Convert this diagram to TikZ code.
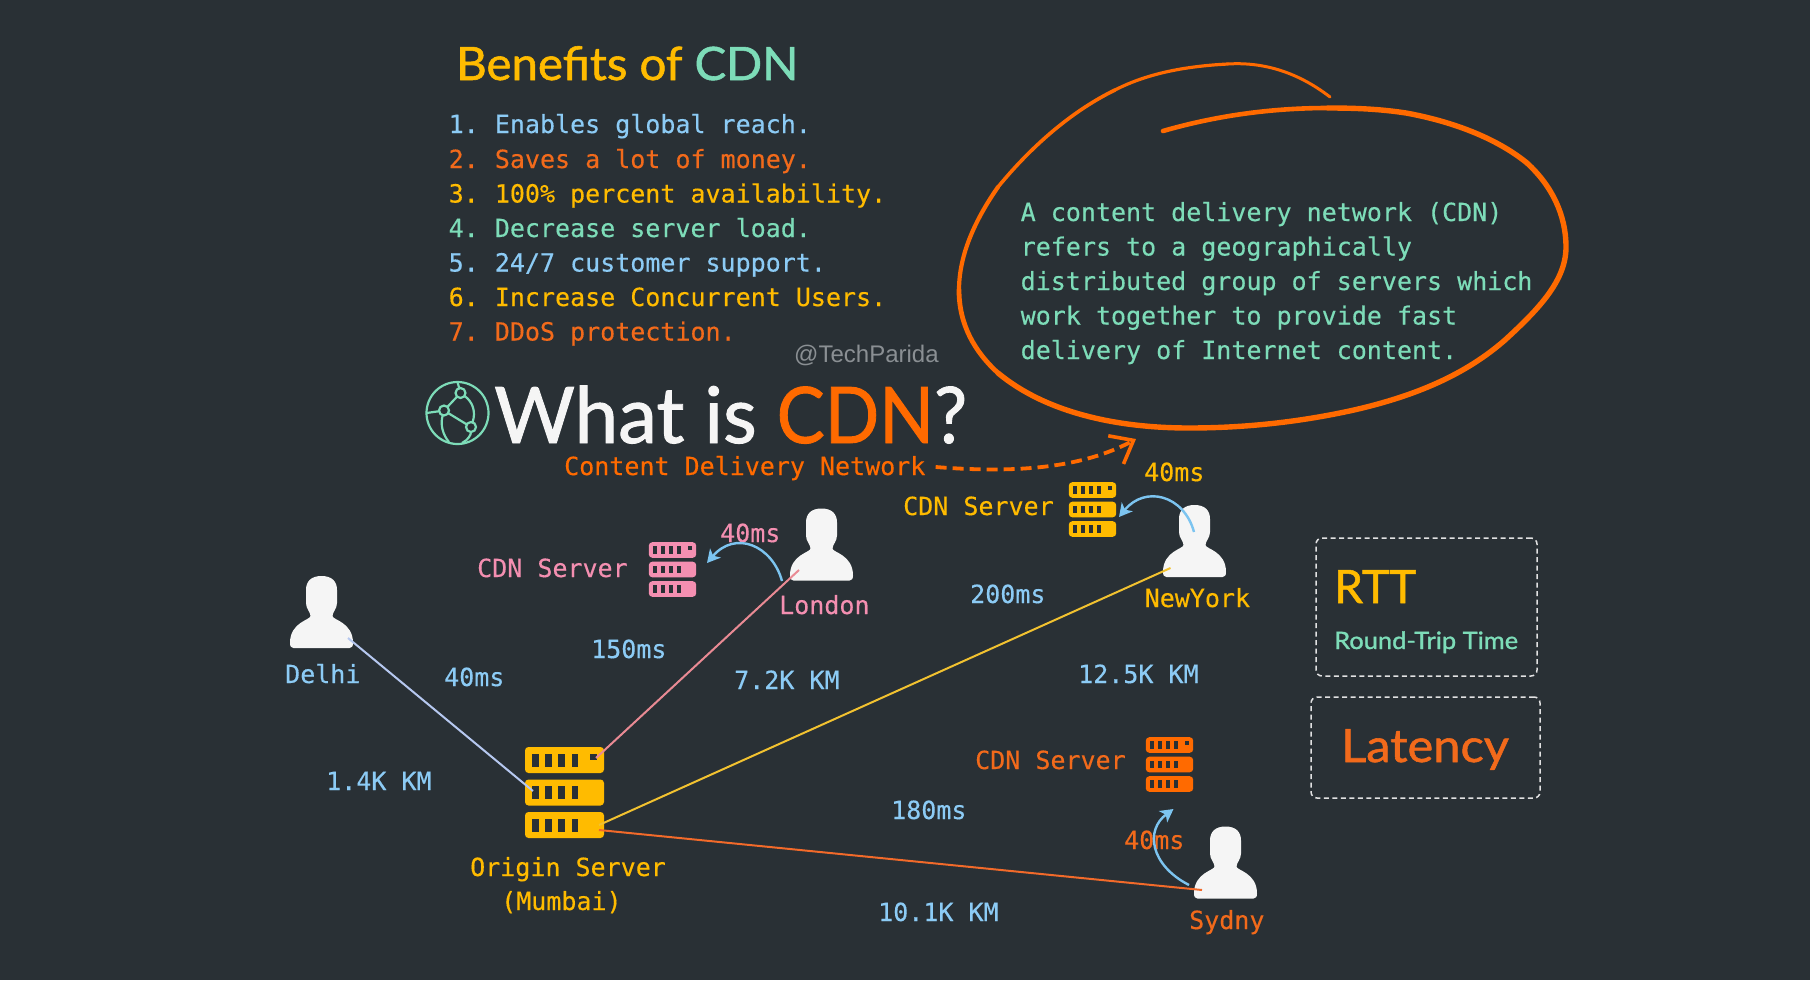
\documentclass[tikz,border=0pt]{standalone}
\usepackage{fontspec}
\usetikzlibrary{arrows.meta}
\setmainfont{Liberation Sans}
\newfontfamily\monof[FakeBold=0.35]{DejaVu Sans Mono}
\newfontfamily\handf[FakeBold=1.2]{Lato}
\definecolor{bg}{HTML}{293035}
\definecolor{cblue}{HTML}{8CCBF5}
\definecolor{corange}{HTML}{F26A1B}
\definecolor{cvivid}{HTML}{FF6A00}
\definecolor{cyellow}{HTML}{FFBB00}
\definecolor{cgreen}{HTML}{7DDCB8}
\definecolor{cpink}{HTML}{F48FB1}
\definecolor{cwhite}{HTML}{F5F5F5}
\definecolor{cgray}{HTML}{8A8F93}
\definecolor{arcblue}{HTML}{7CC4F0}
\definecolor{linkblue}{HTML}{B6C8F0}
\definecolor{linkpink}{HTML}{E98A94}
\definecolor{linkyellow}{HTML}{F2C230}
\definecolor{linkorange}{HTML}{F26A2A}
\tikzset{
  lbl/.style={anchor=base west,inner sep=0pt,font=\monof\fontsize{25}{34.5}\selectfont},
  hand/.style={anchor=base west,inner sep=0pt,font=\handf\fontsize{#1}{#1}\selectfont},
  iconbox/.style={inner sep=0pt,outer sep=0pt},
  link/.style={line width=2pt},
  hop/.style={line width=2.4pt,color=arcblue,-{Stealth[length=13pt,width=14pt,inset=3.5pt]}},
  dashbox/.style={draw=cwhite!90!bg,line width=1.5pt,dash pattern=on 5pt off 3.5pt,rounded corners=6pt,fill=none},
  blob/.style={color=cvivid,line cap=round,line join=round}
}
\newcommand{\personicon}[3]{%
  \node[iconbox,minimum width=63pt,minimum height=72pt] (#1) at (#2,#3) {};
  \fill[cwhite,shift={(#1.center)}]
    (0,-36) .. controls (10,-36) and (15.5,-31) .. (15.5,-22)
    -- (15.5,-9) .. controls (15.5,-3) and (11,0) .. (11,4)
    .. controls (11,8) and (31.5,10) .. (31.5,31)
    .. controls (31.5,34.5) and (30,36) .. (28,36)
    -- (-28,36)
    .. controls (-30,36) and (-31.5,34.5) .. (-31.5,31)
    .. controls (-31.5,10) and (-11,8) .. (-11,4)
    .. controls (-11,0) and (-15.5,-3) .. (-15.5,-9)
    -- (-15.5,-22)
    .. controls (-15.5,-31) and (-10,-36) .. (0,-36) -- cycle;
}
\newcommand{\servericon}[5]{%
  \node[iconbox,minimum width={79pt*#4},minimum height={91pt*#4}] (#1) at (#2,#3) {};
  \begin{scope}[shift={(#1.center)},scale=#4]
    \foreach \row in {0,1,2}{
      \fill[#5,rounded corners=3.5pt] (-39.5,{-45.5+32.5*\row}) rectangle (39.5,{-19.5+32.5*\row});
      \foreach \col in {0,1,2,3}{
        \fill[bg] ({-32.5+13.2*\col},{-39+32.5*\row}) rectangle ({-26+13.2*\col},{-26+32.5*\row});
      }
    }
    \fill[bg] (25.5,-39) rectangle (32.5,-33);
  \end{scope}
}
\newcommand{\numgap}{\hspace{-4pt}}
\begin{document}
\begin{tikzpicture}[x=1pt,y=-1pt]
\useasboundingbox (0,0) rectangle (1810,980);
\fill[bg] (0,0) rectangle (1810,980);

% titles
\node[hand=46] (benefits) at (456,80) {\scalebox{1.03}[1]{\textcolor{cyellow}{Benefits of} \textcolor{cgreen}{CDN}}};
\node[hand=78] (whatis) at (494,443) {\textcolor{cwhite}{What is} \scalebox{0.92}[1]{\textcolor{cvivid}{CDN}}\scalebox{0.95}[1]{\textcolor{cwhite}{?}}};
\node[lbl,cvivid] (cdnfull) at (564,475) {Content Delivery Network};
\node[anchor=base west,inner sep=0pt,font=\fontsize{24}{24}\selectfont,cgray] (handle) at (794,362) {@TechParida};

% list
\node[lbl,cblue] (b1) at (448.5,133) {1.\numgap{} Enables global reach.};
\node[lbl,corange] (b2) at (448.5,168) {2.\numgap{} Saves a lot of money.};
\node[lbl,cyellow] (b3) at (448.5,202.5) {3.\numgap{} 100\% percent availability.};
\node[lbl,cgreen] (b4) at (448.5,237) {4.\numgap{} Decrease server load.};
\node[lbl,cblue] (b5) at (448.5,271.5) {5.\numgap{} 24/7 customer support.};
\node[lbl,cyellow] (b6) at (448.5,306) {6.\numgap{} Increase Concurrent Users.};
\node[lbl,corange] (b7) at (448.5,340.5) {7.\numgap{} DDoS protection.};

% description
\node[lbl,cgreen] (d1) at (1020.5,221) {A content delivery network (CDN)};
\node[lbl,cgreen] (d2) at (1020.5,255.5) {refers to a geographically};
\node[lbl,cgreen] (d3) at (1020.5,290) {distributed group of servers which};
\node[lbl,cgreen] (d4) at (1020.5,324.5) {work together to provide fast};
\node[lbl,cgreen] (d5) at (1020.5,359) {delivery of Internet content.};

% hand-drawn bubble
\draw[blob,line width=3pt] (1330,97) .. controls (1295,70) and (1260,62) .. (1228,64);
\draw[blob,line width=3.2pt] (1228,64) .. controls (1190,66) and (1150,72) .. (1115,90);
\draw[blob,line width=3.6pt] (1115,90) .. controls (1070,112) and (1030,148) .. (998,187);
\draw[blob,line width=4.2pt] (998,187) .. controls (975,220) and (959,255) .. (959,290);
\draw[blob,line width=4.8pt] (959,290) .. controls (959,325) and (975,352) .. (998,373);
\draw[blob,line width=5.4pt] (998,373) .. controls (1045,412) and (1115,428) .. (1189,428)
  .. controls (1245,428) and (1300,422) .. (1354,410)
  .. controls (1415,396) and (1465,375) .. (1505,340)
  .. controls (1540,308) and (1566,280) .. (1566,247)
  .. controls (1566,215) and (1552,186) .. (1527,163)
  .. controls (1495,137) and (1450,121) .. (1406,113)
  .. controls (1380,109) and (1355,108) .. (1328,108);
\draw[blob,line width=4.6pt] (1328,108) .. controls (1270,108) and (1215,116) .. (1163,131);

% globe
\begin{scope}[cgreen,line width=2.2pt]
  \node[iconbox,minimum size=62pt,circle,draw=cgreen,line width=2.2pt] (globe) at (457.5,413) {};
  \node[iconbox,minimum size=10pt,circle,draw=cgreen,line width=2.2pt] (g1) at (460.5,393) {};
  \node[iconbox,minimum size=10pt,circle,draw=cgreen,line width=2.2pt] (g2) at (444,410.5) {};
  \node[iconbox,minimum size=10pt,circle,draw=cgreen,line width=2.2pt] (g3) at (471,427) {};
  \draw (g1) -- (g2);
  \draw (g2) -- (g3);
  \draw (g1) .. controls (473,402) and (476,412) .. (g3);
  \draw (g2) -- (globe.west);
  \draw (g1) -- (globe.north);
  \draw (g2) .. controls (440,425) and (443,435) .. (449,442);
  \draw (g3) .. controls (471,435) and (468,440) .. (462,443);
\end{scope}

% icons
\personicon{delhi}{321.5}{612}
\personicon{london}{821.5}{544.5}
\personicon{newyork}{1194.5}{541}
\personicon{sydny}{1225.5}{862.5}
\servericon{origin}{564.5}{792.5}{1}{cyellow}
\servericon{cdnlondon}{672.5}{569.5}{0.6}{cpink}
\servericon{cdnny}{1092.5}{509.5}{0.6}{cyellow}
\servericon{cdnsyd}{1169.5}{764.5}{0.6}{cvivid}

% labels
\node[lbl,cpink] (lcdn1) at (477,577) {CDN Server};
\node[lbl,cpink] (l40a) at (720,542) {40ms};
\node[lbl,cpink] (llondon) at (779,614) {London};
\node[lbl,cblue] (ldelhi) at (285,683) {Delhi};
\node[lbl,cblue] (l40b) at (444,686) {40ms};
\node[lbl,cblue] (l150) at (591,658) {150ms};
\node[lbl,cblue] (l72) at (734,689) {7.2K KM};
\node[lbl,cblue] (l14) at (326,790) {1.4K KM};
\node[lbl,cyellow] (lorigin) at (470,876) {Origin Server};
\node[lbl,cyellow] (lmumbai) at (501,910) {(Mumbai)};
\node[lbl,cyellow] (l40c) at (1144,481) {40ms};
\node[lbl,cyellow] (lcdn2) at (903,515) {CDN Server};
\node[lbl,cyellow] (lny) at (1144.5,607) {NewYork};
\node[lbl,cblue] (l200) at (970,603) {200ms};
\node[lbl,cblue] (l125) at (1078,683) {12.5K KM};
\node[lbl,corange] (lcdn3) at (975,769) {CDN Server};
\node[lbl,cblue] (l180) at (891,819) {180ms};
\node[lbl,corange] (l40d) at (1124,849) {40ms};
\node[lbl,cblue] (l101) at (878,921) {10.1K KM};
\node[lbl,corange] (lsyd) at (1189,929) {Sydny};

% connectors
\draw[link,color=linkblue] ([shift={(26.5,26)}]delhi.center) -- ([shift={(-31.5,-1.5)}]origin.center);
\draw[link,color=linkpink] ([shift={(-22.5,25.5)}]london.center) -- ([shift={(31.5,-34.5)}]origin.center);
\draw[link,color=linkyellow] ([shift={(-24,27)}]newyork.center) -- ([shift={(34.5,32.5)}]origin.center);
\draw[link,color=linkorange] ([shift={(-23.5,27.5)}]sydny.center) -- ([shift={(34.5,37.5)}]origin.center);

\draw[hop] ([shift={(-39.5,36.5)}]london.center) .. controls (772,545) and (735,530) .. ([shift={(34.5,-6.5)}]cdnlondon.center);
\draw[hop] ([shift={(-0.5,-9)}]newyork.center) .. controls (1184,495) and (1145,485) .. ([shift={(26.5,7.5)}]cdnny.center);
\draw[hop] ([shift={(-36.5,22.5)}]sydny.center) .. controls (1150,865) and (1145,830) .. ([shift={(4,44.5)}]cdnsyd.center);

% dashed pointer
\coordinate (pointertip) at (1136,439);
\draw[color=cvivid,line width=3.8pt,dash pattern=on 11pt off 6pt,-{Straight Barb[length=20pt,width=32pt,line width=3.6pt]}]
  ([shift={(10,-8)}]cdnfull.base east) .. controls (1000,472) and (1075,472) .. (pointertip);

% legend boxes
\node[dashbox,minimum width=221pt,minimum height=138pt] (rttbox) at (1426.5,607) {};
\node[dashbox,minimum width=229pt,minimum height=101pt] (latbox) at (1425.5,747.5) {};
\node[hand=46,cyellow] (rtt) at (1334,603) {RTT};
\node[hand=24,cgreen] (rtrip) at (1334,649) {\scalebox{1.06}[1]{Round-Trip Time}};
\node[hand=46,corange] (latency) at (1341,762) {\scalebox{1.06}[1]{Latency}};
\end{tikzpicture}
\end{document}
